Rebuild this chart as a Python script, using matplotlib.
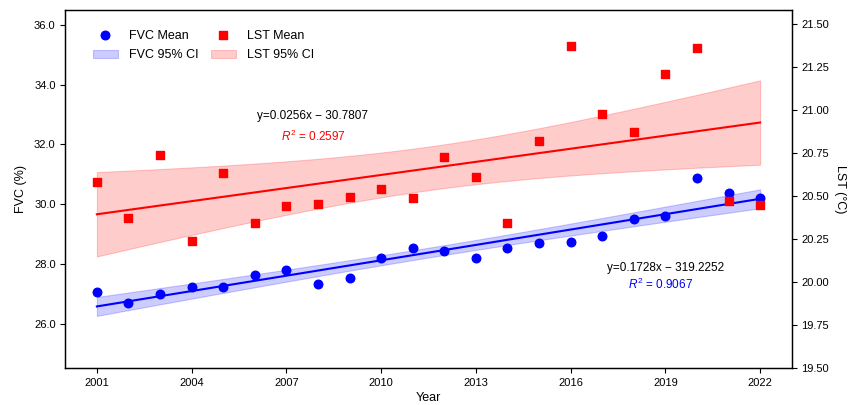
import numpy as np
import matplotlib
matplotlib.use("Agg")
import matplotlib.pyplot as plt

plt.rcParams['font.family'] = ['Liberation Sans', 'DejaVu Sans']
plt.rcParams['mathtext.fontset'] = 'custom'
plt.rcParams['mathtext.rm'] = 'Liberation Sans'
plt.rcParams['mathtext.it'] = 'Liberation Sans:italic'

years = list(range(2001, 2023))
fvc_mean = [27.06, 26.70, 26.99, 27.23, 27.24, 27.62, 27.81, 27.32, 27.52, 28.20,
            28.53, 28.42, 28.20, 28.52, 28.69, 28.74, 28.93, 29.49, 29.59, 30.89,
            30.36, 30.22]
lst_mean = [20.580, 20.372, 20.737, 20.238, 20.634, 20.343, 20.444, 20.455, 20.496, 20.541,
            20.488, 20.727, 20.612, 20.343, 20.820, 21.374, 20.975, 20.872, 21.211, 21.359,
            20.473, 20.446]
fvc_eq = "y=0.1728x \u2212 319.2252"
fvc_r2 = "$R^2$ = 0.9067"
lst_eq = "y=0.0256x \u2212 30.7807"
lst_r2 = "$R^2$ = 0.2597"
fvc_ticks = [26.0, 28.0, 30.0, 32.0, 34.0, 36.0]
lst_ticks = [19.50, 19.75, 20.00, 20.25, 20.50, 20.75, 21.00, 21.25, 21.50]
year_ticks = [2001, 2004, 2007, 2010, 2013, 2016, 2019, 2022]

T975 = 2.086  # t quantile, df = 20


def fit_ci(x, y):
    x = np.asarray(x, float)
    y = np.asarray(y, float)
    b, a = np.polyfit(x, y, 1)
    xs = np.linspace(x.min(), x.max(), 200)
    yhat = a + b * xs
    resid = y - (a + b * x)
    n = len(x)
    s = np.sqrt(np.sum(resid ** 2) / (n - 2))
    sxx = np.sum((x - x.mean()) ** 2)
    hw = T975 * s * np.sqrt(1.0 / n + (xs - x.mean()) ** 2 / sxx)
    return xs, yhat, yhat - hw, yhat + hw


fig = plt.figure(figsize=(8.49, 4.05), dpi=100)
ax1 = fig.add_axes([0.0769, 0.0906, 0.8556, 0.8844])
ax2 = ax1.twinx()

xs, yh, lo, hi = fit_ci(years, fvc_mean)
h_fci = ax1.fill_between(xs, lo, hi, color='blue', alpha=0.2, linewidth=0.8, label='FVC 95% CI')
ax1.plot(xs, yh, color='blue', lw=1.5)
h_fm = ax1.scatter(years, fvc_mean, color='blue', s=38, marker='o', label='FVC Mean', zorder=3)

xs2, yh2, lo2, hi2 = fit_ci(years, lst_mean)
h_lci = ax2.fill_between(xs2, lo2, hi2, color='red', alpha=0.2, linewidth=0.8, label='LST 95% CI')
ax2.plot(xs2, yh2, color='red', lw=1.5)
h_lm = ax2.scatter(years, lst_mean, color='red', s=38, marker='s', label='LST Mean', zorder=3)

ax1.set_xlim(2000, 2023)
ax1.set_ylim(24.5, 36.5)
ax2.set_ylim(19.5, 21.58)
ax1.set_xticks(year_ticks)
ax1.set_yticks(fvc_ticks)
ax1.set_yticklabels([f"{v:.1f}" for v in fvc_ticks])
ax2.set_yticks(lst_ticks)
ax2.set_yticklabels([f"{v:.2f}" for v in lst_ticks])

for ax in (ax1, ax2):
    ax.tick_params(labelsize=8, length=3.5, width=0.8, direction='out')
    for sp in ax.spines.values():
        sp.set_linewidth(0.9)

ax1.set_xlabel("Year", fontsize=9, labelpad=3)
ax1.set_ylabel("FVC (%)", fontsize=9, labelpad=5)
ax2.set_ylabel("LST (\u00b0C)", fontsize=9, rotation=270, labelpad=12)

ax1.text(2007.83, 32.96, lst_eq, ha='center', va='center', fontsize=8.5, color='black')
ax1.text(2007.86, 32.28, lst_r2, ha='center', va='center', fontsize=8.5, color='red')
ax1.text(2019.0, 27.85, fvc_eq, ha='center', va='center', fontsize=8.5, color='black')
ax1.text(2018.84, 27.31, fvc_r2, ha='center', va='center', fontsize=8.5, color='blue')

leg = ax2.legend([h_fm, h_fci, h_lm, h_lci],
                 ['FVC Mean', 'FVC 95% CI', 'LST Mean', 'LST 95% CI'],
                 loc='upper left', bbox_to_anchor=(0.022, 0.977), ncol=2, frameon=False,
                 fontsize=9, columnspacing=1.0, handletextpad=0.9, labelspacing=0.62)

fig.savefig("out.png", dpi=100)
